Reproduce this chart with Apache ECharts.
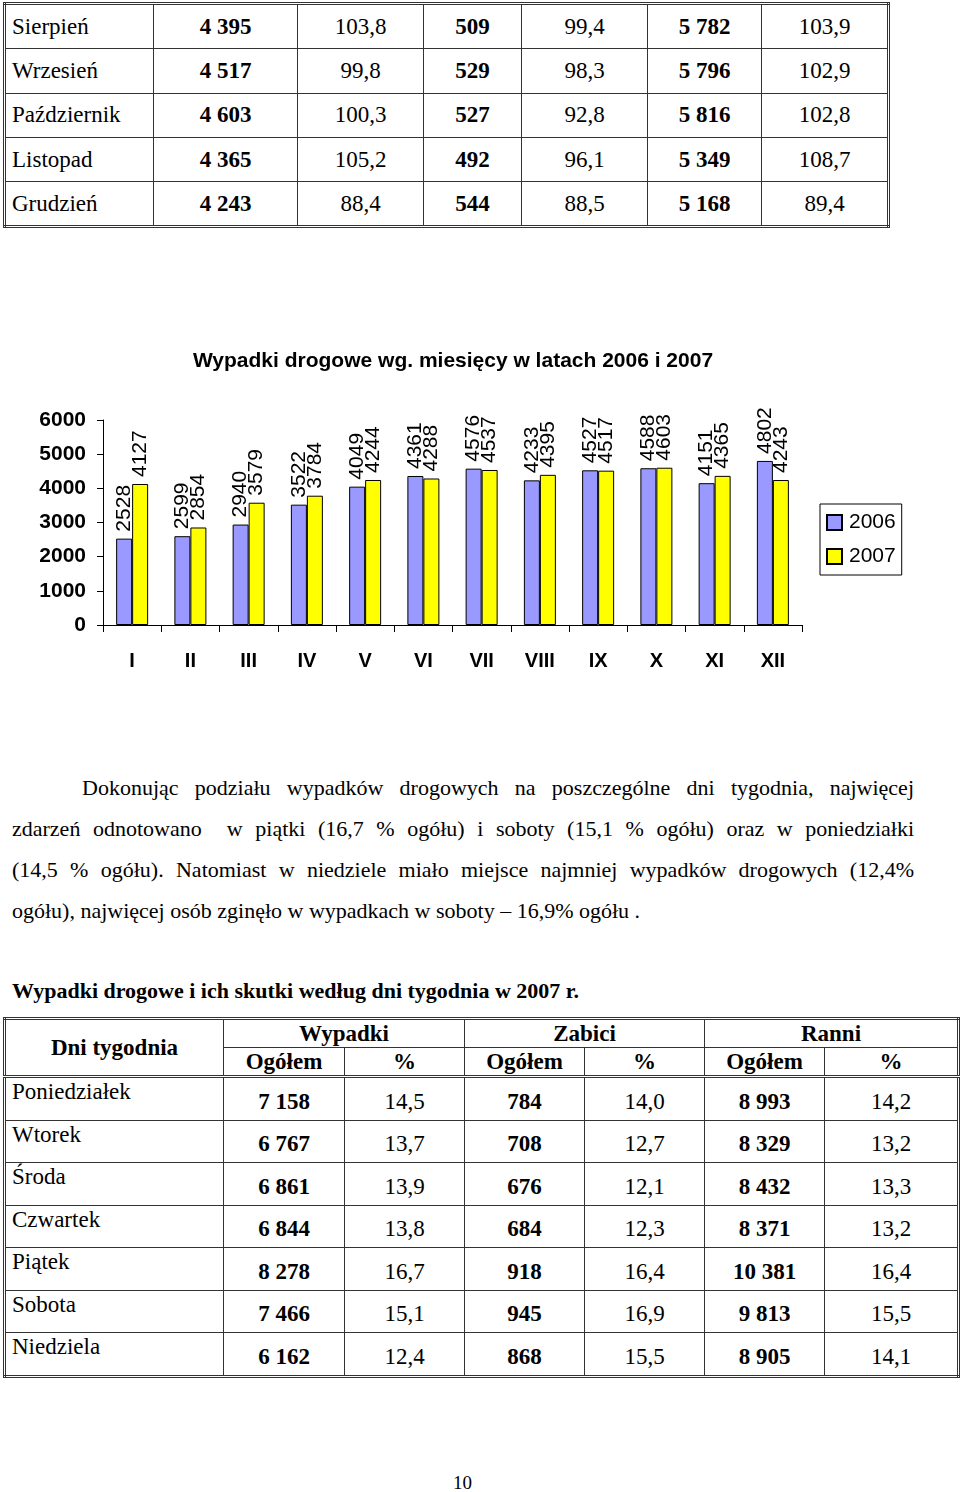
<!DOCTYPE html>
<html>
<head>
<meta charset="utf-8">
<script src="https://cdn.jsdelivr.net/npm/echarts@6/dist/echarts.min.js"></script>
<style>
  body { margin: 0; background: #fff; width: 960px; height: 1492px; position: relative; font-family: "Liberation Serif", "Times New Roman", serif; color: #000; }
  table { border-collapse: collapse; table-layout: fixed; position: absolute; font-size: 23px; }
  td { border: 1px solid #333; padding: 0; }
  /* gorna tabela */
  #tab1 { left: 3px; top: 2px; width: 884px; border: 3px double #333; }
  #tab1 td { height: 43.3px; text-align: center; }
  #tab1 td.name { text-align: left; padding-left: 6px; }
  #tab1 td.b { font-weight: bold; }
  /* dolna tabela */
  #tab2 { left: 3px; top: 1017px; width: 954px; border: 3px double #333; }
  #tab2 .h td { font-weight: bold; text-align: center; height: 27px; line-height: 24px; }
  #tab2 .h2 td { border-bottom: 3px double #333; }
  #tab2 .r td { height: 35.5px; line-height: 24px; text-align: center; vertical-align: bottom; padding-bottom: 6px; }
  #tab2 .r td.name { text-align: left; padding-left: 6px; vertical-align: top; padding-top: 2px; padding-bottom: 0; height: 39.5px; }
  #tab2 .r td.b { font-weight: bold; }
  #chart { position: absolute; left: 0; top: 330px; width: 960px; height: 370px; }
  .para { position: absolute; left: 12px; width: 902px; font-size: 22px; line-height: 41px; }
  .para div { text-align: justify; text-align-last: justify; white-space: nowrap; }
  .para div.last { text-align-last: left; }
  #cap { position: absolute; left: 12px; top: 978px; font-size: 22px; font-weight: bold; }
  #page { position: absolute; left: 453px; top: 1472px; font-size: 19px; }
</style>
</head>
<body>
<table id="tab1"></table>
<div id="chart"></div>
<div class="para" style="top:767px">
  <div style="padding-left:70px">Dokonując podziału wypadków drogowych na poszczególne dni tygodnia, najwięcej</div>
  <div>zdarzeń odnotowano&nbsp; w piątki (16,7 % ogółu) i soboty (15,1 % ogółu) oraz w poniedziałki</div>
  <div>(14,5 % ogółu). Natomiast w niedziele miało miejsce najmniej wypadków drogowych (12,4%</div>
  <div class="last">ogółu), najwięcej osób zginęło w wypadkach w soboty – 16,9% ogółu .</div>
</div>
<div id="cap">Wypadki drogowe i ich skutki według dni tygodnia w 2007 r.</div>
<table id="tab2"></table>
<div id="page">10</div>
<script>
// gorna tabela - miesiace
const months = ["Sierpień", "Wrzesień", "Październik", "Listopad", "Grudzień"];
const col1 = ["4 395", "4 517", "4 603", "4 365", "4 243"];
const col2 = ["103,8", "99,8", "100,3", "105,2", "88,4"];
const col3 = ["509", "529", "527", "492", "544"];
const col4 = ["99,4", "98,3", "92,8", "96,1", "88,5"];
const col5 = ["5 782", "5 796", "5 816", "5 349", "5 168"];
const col6 = ["103,9", "102,9", "102,8", "108,7", "89,4"];

// wykres
const categories = ["I", "II", "III", "IV", "V", "VI", "VII", "VIII", "IX", "X", "XI", "XII"];
const data2006 = [2528, 2599, 2940, 3522, 4049, 4361, 4576, 4233, 4527, 4588, 4151, 4802];
const data2007 = [4127, 2854, 3579, 3784, 4244, 4288, 4537, 4395, 4517, 4603, 4365, 4243];

// dolna tabela - dni tygodnia
const days = ["Poniedziałek", "Wtorek", "Środa", "Czwartek", "Piątek", "Sobota", "Niedziela"];
const wypOg = ["7 158", "6 767", "6 861", "6 844", "8 278", "7 466", "6 162"];
const wypPr = ["14,5", "13,7", "13,9", "13,8", "16,7", "15,1", "12,4"];
const zabOg = ["784", "708", "676", "684", "918", "945", "868"];
const zabPr = ["14,0", "12,7", "12,1", "12,3", "16,4", "16,9", "15,5"];
const ranOg = ["8 993", "8 329", "8 432", "8 371", "10 381", "9 813", "8 905"];
const ranPr = ["14,2", "13,2", "13,3", "13,2", "16,4", "15,5", "14,1"];

// budowa gornej tabeli
let h1 = '<colgroup><col style="width:149px"><col style="width:144px"><col style="width:126px"><col style="width:98px"><col style="width:126px"><col style="width:114px"><col style="width:127px"></colgroup>';
months.forEach((m, i) => {
  h1 += '<tr><td class="name">' + m + '</td><td class="b">' + col1[i] + '</td><td>' + col2[i] +
    '</td><td class="b">' + col3[i] + '</td><td>' + col4[i] + '</td><td class="b">' + col5[i] +
    '</td><td>' + col6[i] + '</td></tr>';
});
document.getElementById("tab1").innerHTML = h1;

// budowa dolnej tabeli
let h2 = '<colgroup><col style="width:219px"><col style="width:121px"><col style="width:120px"><col style="width:120px"><col style="width:120px"><col style="width:120px"><col style="width:134px"></colgroup>';
h2 += '<tr class="h"><td rowspan="2" style="border-bottom:3px double #333">Dni tygodnia</td><td colspan="2">Wypadki</td><td colspan="2">Zabici</td><td colspan="2">Ranni</td></tr>';
h2 += '<tr class="h h2"><td>Ogółem</td><td>%</td><td>Ogółem</td><td>%</td><td>Ogółem</td><td>%</td></tr>';
days.forEach((d, i) => {
  h2 += '<tr class="r"><td class="name">' + d + '</td><td class="b">' + wypOg[i] + '</td><td>' + wypPr[i] +
    '</td><td class="b">' + zabOg[i] + '</td><td>' + zabPr[i] + '</td><td class="b">' + ranOg[i] +
    '</td><td>' + ranPr[i] + '</td></tr>';
});
document.getElementById("tab2").innerHTML = h2;

const font = "Liberation Sans, Arial, sans-serif";
const labelOpt = {
  show: true,
  position: "top",
  rotate: 90,
  align: "left",
  verticalAlign: "middle",
  distance: 7,
  color: "#000",
  fontFamily: font,
  fontSize: 21
};

const myChart = echarts.init(document.getElementById("chart"));
myChart.setOption({
  animation: false,
  title: {
    text: "Wypadki drogowe wg. miesięcy w latach 2006 i 2007",
    left: 448,
    textAlign: "center",
    top: 16,
    textStyle: { color: "#000", fontFamily: font, fontSize: 21, fontWeight: "bold" }
  },
  grid: { left: 103, right: 158, top: 90, bottom: 75 },
  legend: {
    orient: "vertical",
    left: 820,
    top: 174,
    width: 82,
    padding: [8, 6, 8, 6],
    itemGap: 13,
    itemWidth: 15,
    itemHeight: 15,
    borderColor: "#000",
    borderWidth: 1,
    icon: "rect",
    textStyle: { color: "#000", fontFamily: font, fontSize: 21, padding: [0, 0, 0, 2] },
    data: ["2006", "2007"]
  },
  xAxis: {
    type: "category",
    data: categories,
    axisLine: { lineStyle: { color: "#000", width: 1 } },
    axisTick: { show: true, length: 7, lineStyle: { color: "#000" } },
    axisLabel: { color: "#000", fontFamily: font, fontSize: 20, fontWeight: "bold", margin: 26 }
  },
  yAxis: {
    type: "value",
    min: 0,
    max: 6000,
    interval: 1000,
    splitLine: { show: false },
    axisLine: { show: true, lineStyle: { color: "#000", width: 1 } },
    axisTick: { show: true, length: 6, lineStyle: { color: "#000" } },
    axisLabel: { color: "#000", fontFamily: font, fontSize: 21, fontWeight: "bold", margin: 17, formatter: v => String(v) }
  },
  series: [
    {
      name: "2006",
      type: "bar",
      data: data2006,
      barWidth: 16,
      barGap: "0%",
      itemStyle: { color: "#9999ff", borderColor: "#000", borderWidth: 1 },
      label: labelOpt
    },
    {
      name: "2007",
      type: "bar",
      data: data2007,
      barWidth: 16,
      barGap: "0%",
      itemStyle: { color: "#ffff00", borderColor: "#000", borderWidth: 1 },
      label: labelOpt
    }
  ]
});
</script>
</body>
</html>
